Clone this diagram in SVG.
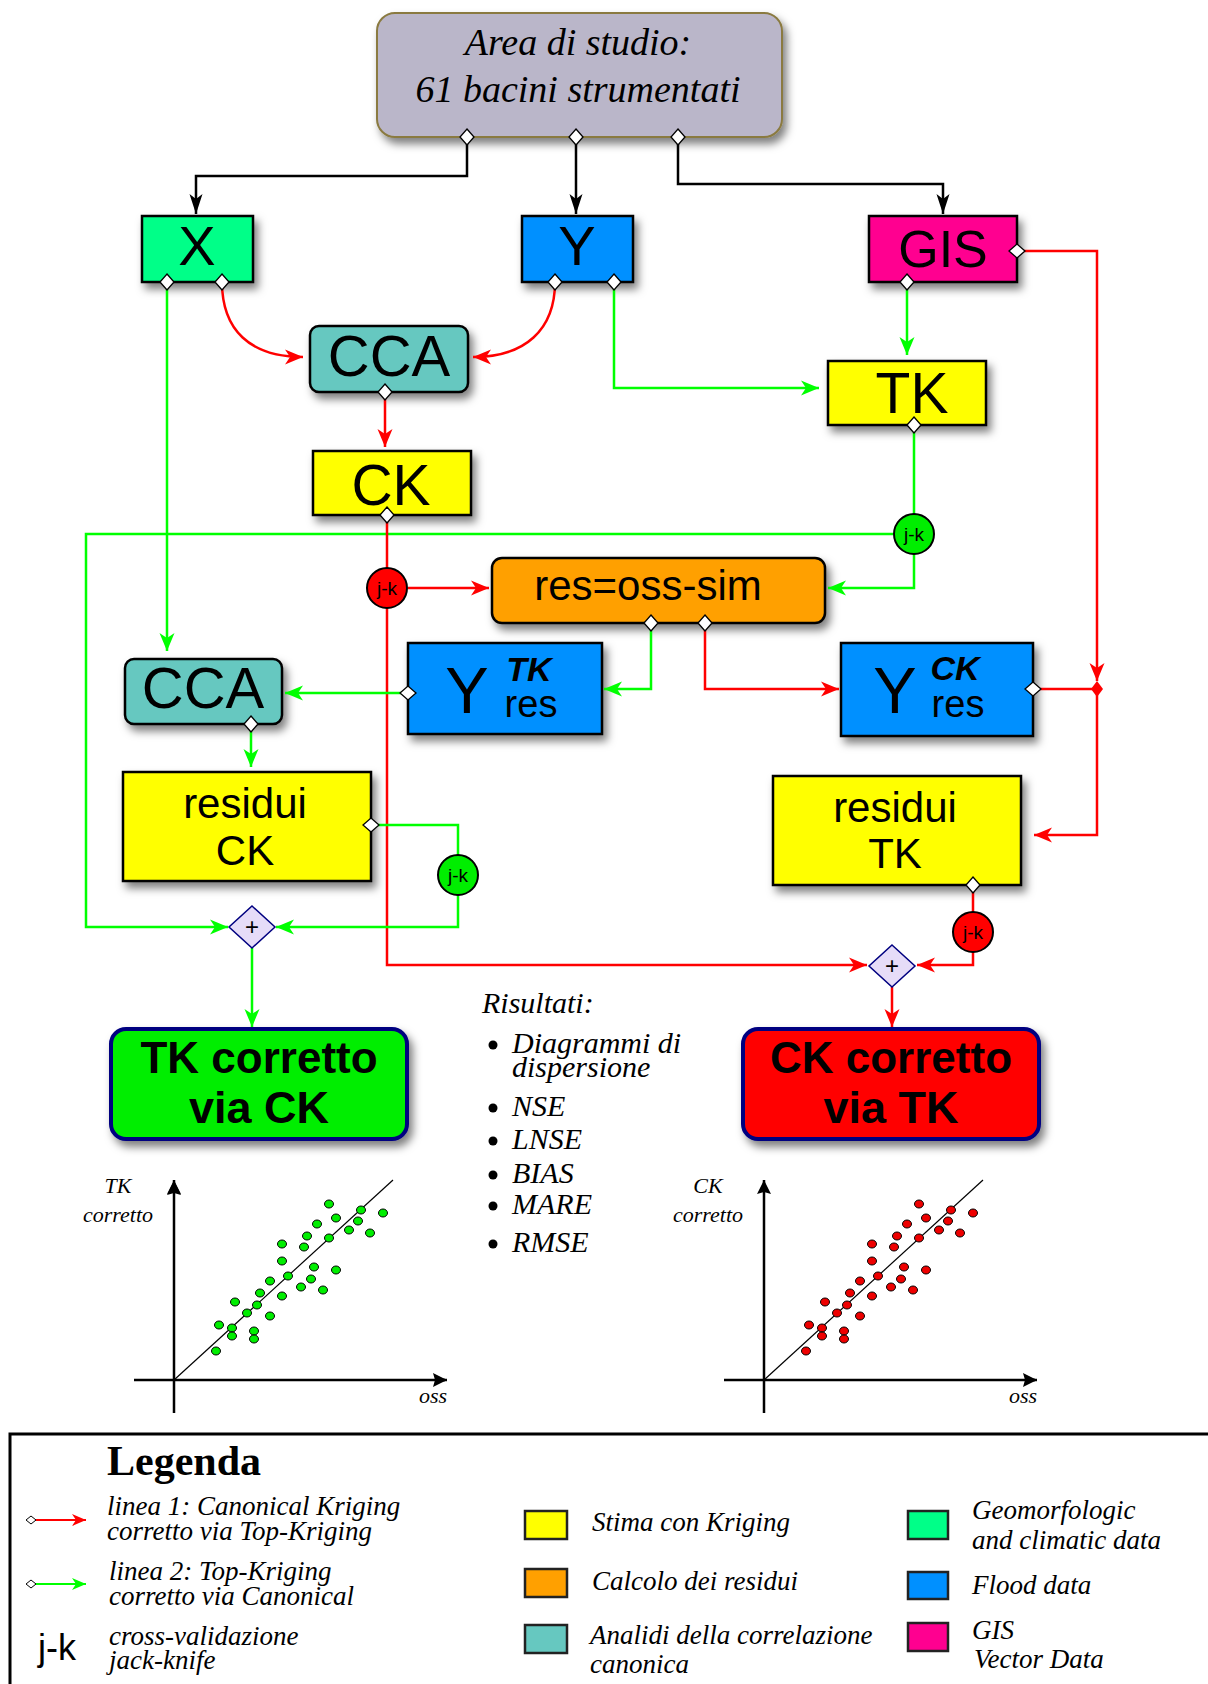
<svg xmlns="http://www.w3.org/2000/svg" width="1208" height="1684" viewBox="0 0 1208 1684">
<defs>
<filter id="sh" x="-20%" y="-20%" width="150%" height="170%"><feDropShadow dx="4" dy="6" stdDeviation="4" flood-color="#000" flood-opacity="0.5"/></filter>
<marker id="ar" viewBox="0 -8 20 16" refX="18" refY="0" markerWidth="20" markerHeight="16" orient="auto" markerUnits="userSpaceOnUse"><path d="M0,-7.5 L18,0 L0,7.5 L5,0 Z" fill="#ff0000"/></marker>
<marker id="ag" viewBox="0 -8 20 16" refX="18" refY="0" markerWidth="20" markerHeight="16" orient="auto" markerUnits="userSpaceOnUse"><path d="M0,-7.5 L18,0 L0,7.5 L5,0 Z" fill="#00ff00"/></marker>
<marker id="ak" viewBox="0 -8 22 16" refX="20" refY="0" markerWidth="22" markerHeight="16" orient="auto" markerUnits="userSpaceOnUse"><path d="M0,-6.5 L20,0 L0,6.5 L5,0 Z" fill="#000"/></marker>
<marker id="ax" viewBox="0 -8 16 16" refX="14" refY="0" markerWidth="16" markerHeight="16" orient="auto" markerUnits="userSpaceOnUse"><path d="M0,-7 L14,0 L0,7 L2,0 Z" fill="#000"/></marker>
<marker id="dm" viewBox="-1 -8 18 16" refX="8" refY="0" markerWidth="18" markerHeight="16" orient="auto" markerUnits="userSpaceOnUse"><path d="M0,0 L8,-7 L16,0 L8,7 Z" fill="#fff" stroke="#000" stroke-width="1.3"/></marker>
<marker id="dms" viewBox="-1 -6 12 12" refX="5" refY="0" markerWidth="12" markerHeight="12" orient="auto" markerUnits="userSpaceOnUse"><path d="M0,0 L5,-4 L10,0 L5,4 Z" fill="#fff" stroke="#000" stroke-width="1"/></marker>
<marker id="arl" viewBox="0 -8 16 16" refX="14" refY="0" markerWidth="16" markerHeight="16" orient="auto" markerUnits="userSpaceOnUse"><path d="M0,-6 L14,0 L0,6 L4,0 Z" fill="#ff0000"/></marker>
<marker id="agl" viewBox="0 -8 16 16" refX="14" refY="0" markerWidth="16" markerHeight="16" orient="auto" markerUnits="userSpaceOnUse"><path d="M0,-6 L14,0 L0,6 L4,0 Z" fill="#00ff00"/></marker>
</defs>
<style>
.box{stroke:#000;stroke-width:2.5;filter:url(#sh)}
.sans{font-family:"Liberation Sans",Arial,sans-serif;fill:#000;text-anchor:middle}
.ser{font-family:"Liberation Serif","Times New Roman",serif;font-style:italic;fill:#000}
.r{fill:none;stroke:#ff0000;stroke-width:2.5}
.g{fill:none;stroke:#00ff00;stroke-width:2.5}
.k{fill:none;stroke:#000;stroke-width:2.5}
.jkr{fill:#ff0000;stroke:#000;stroke-width:2}
.jkg{fill:#00ee00;stroke:#000;stroke-width:2}
.plus{fill:#e6dcf8;stroke:#000080;stroke-width:1.5}
.dotg{fill:#00ee00;stroke:#000;stroke-width:1}
.dotr{fill:#ee0000;stroke:#000;stroke-width:1}
.leg{stroke:#222;stroke-width:2.5}
</style>
<rect width="1208" height="1684" fill="#fff"/>

<g id="area">
<rect x="377" y="13" width="405" height="124" rx="18" fill="#bab6c9" stroke="#8a7a40" stroke-width="2" filter="url(#sh)"/>
<text class="ser" x="578" y="55" font-size="38" text-anchor="middle">Area di studio:</text>
<text class="ser" x="578" y="102" font-size="38" text-anchor="middle">61 bacini strumentati</text>
</g>
<g id="X"><rect class="box" x="142" y="216" width="111" height="66" fill="#00ff88"/><text class="sans" x="197" y="265" font-size="56">X</text></g>
<g id="Y"><rect class="box" x="522" y="216" width="111" height="66" fill="#0090ff"/><text class="sans" x="577" y="265" font-size="56">Y</text></g>
<g id="GIS"><rect class="box" x="869" y="216" width="148" height="66" fill="#ff0090"/><text class="sans" x="943" y="267" font-size="52">GIS</text></g>
<g id="CCA1"><rect class="box" x="310" y="326" width="158" height="66" rx="9" fill="#66c8c0"/><text class="sans" x="389" y="376" font-size="58">CCA</text></g>
<g id="CK"><rect class="box" x="313" y="451" width="158" height="64" fill="#ffff00"/><text class="sans" x="391" y="505" font-size="57">CK</text></g>
<g id="TK"><rect class="box" x="828" y="361" width="158" height="64" fill="#ffff00"/><text class="sans" x="912" y="413" font-size="57">TK</text></g>
<g id="res"><rect class="box" x="492" y="558" width="333" height="65" rx="10" fill="#ffa000"/><text class="sans" x="648" y="600" font-size="42">res=oss-sim</text></g>
<g id="CCA2"><rect class="box" x="125" y="659" width="157" height="65" rx="9" fill="#66c8c0"/><text class="sans" x="203" y="708" font-size="58">CCA</text></g>
<g id="YTKres"><rect class="box" x="408" y="643" width="194" height="91" fill="#0090ff" stroke-width="2"/>
<text class="sans" x="467" y="713" font-size="65">Y</text>
<text class="sans" x="529" y="681" font-size="34" font-weight="bold" font-style="italic">TK</text>
<text class="sans" x="531" y="717" font-size="38">res</text></g>
<g id="YCKres"><rect class="box" x="841" y="643" width="192" height="93" fill="#0090ff" stroke-width="2"/>
<text class="sans" x="895" y="713" font-size="65">Y</text>
<text class="sans" x="955" y="680" font-size="34" font-weight="bold" font-style="italic">CK</text>
<text class="sans" x="958" y="717" font-size="38">res</text></g>
<g id="residuiCK"><rect class="box" x="123" y="772" width="248" height="109" fill="#ffff00" stroke-width="4"/>
<text class="sans" x="245" y="818" font-size="42">residui</text><text class="sans" x="245" y="865" font-size="42">CK</text></g>
<g id="residuiTK"><rect class="box" x="773" y="776" width="248" height="109" fill="#ffff00" stroke-width="4"/>
<text class="sans" x="895" y="822" font-size="42">residui</text><text class="sans" x="895" y="868" font-size="42">TK</text></g>
<g id="TKcorretto"><rect x="111" y="1029" width="296" height="110" rx="15" fill="#00ee00" stroke="#000080" stroke-width="4" filter="url(#sh)"/>
<text class="sans" x="259" y="1073" font-size="44" font-weight="bold">TK corretto</text>
<text class="sans" x="259" y="1123" font-size="45" font-weight="bold">via CK</text></g>
<g id="CKcorretto"><rect x="743" y="1029" width="296" height="110" rx="15" fill="#ff0000" stroke="#000080" stroke-width="4" filter="url(#sh)"/>
<text class="sans" x="891" y="1073" font-size="44" font-weight="bold">CK corretto</text>
<text class="sans" x="891" y="1123" font-size="45" font-weight="bold">via TK</text></g>

<g id="connectors">
<path class="k" d="M467,137 V176 H196 V214" marker-start="url(#dm)" marker-end="url(#ak)"/>
<path class="k" d="M576,137 V214" marker-start="url(#dm)" marker-end="url(#ak)"/>
<path class="k" d="M678,137 V184 H943 V214" marker-start="url(#dm)" marker-end="url(#ak)"/>
<path class="g" d="M167,282 V651" marker-start="url(#dm)" marker-end="url(#ag)"/>
<path class="g" d="M614,282 V388 H819" marker-start="url(#dm)" marker-end="url(#ag)"/>
<path class="g" d="M907,282 V355" marker-start="url(#dm)" marker-end="url(#ag)"/>
<path class="g" d="M893,534 H86 V927 H228" stroke-width="3" marker-end="url(#ag)"/>
<path class="r" d="M387,515 V965 H867" marker-start="url(#dm)" marker-end="url(#ar)"/>
<path class="r" d="M222,282 C222,330 250,357 303,357" marker-start="url(#dm)" marker-end="url(#ar)"/>
<path class="r" d="M555,282 C555,330 525,357 473,357" marker-start="url(#dm)" marker-end="url(#ar)"/>
<path class="r" d="M385,392 V447" marker-start="url(#dm)" marker-end="url(#ar)"/>
<path class="r" d="M408,588 H489" marker-end="url(#ar)"/>
<path class="g" d="M914,425 V588 H828" marker-start="url(#dm)" marker-end="url(#ag)"/>
<path class="g" d="M651,623 V689 H604" marker-start="url(#dm)" marker-end="url(#ag)"/>
<path class="r" d="M705,623 V689 H839" marker-start="url(#dm)" marker-end="url(#ar)"/>
<path class="g" d="M408,693 H285" marker-start="url(#dm)" marker-end="url(#ag)"/>
<path class="g" d="M251,724 V767" marker-start="url(#dm)" marker-end="url(#ag)"/>
<path class="g" d="M371,825 H458 V927 H276" marker-start="url(#dm)" marker-end="url(#ag)"/>
<path class="r" d="M1017,251 H1097 V681" marker-start="url(#dm)" marker-end="url(#ar)"/>
<path class="r" d="M1033,689 H1097" marker-start="url(#dm)"/>
<path class="r" d="M1097,689 V835 H1034" marker-end="url(#ar)"/>
<path d="M1097,681 L1103,689 L1097,697 L1091,689 Z" fill="#ff0000"/>
<path class="r" d="M973,885 V965 H917" marker-start="url(#dm)" marker-end="url(#ar)"/>
<path class="g" d="M252,948 V1027" marker-end="url(#ag)"/>
<path class="r" d="M892,987 V1027" marker-end="url(#ar)"/>
</g>

<g id="jk1"><circle class="jkr" cx="387" cy="588" r="20"/><text class="sans" x="387" y="595" font-size="19">j-k</text></g>
<g id="jk2"><circle class="jkg" cx="914" cy="534" r="20"/><text class="sans" x="914" y="541" font-size="19">j-k</text></g>
<g id="jk3"><circle class="jkg" cx="458" cy="875" r="20"/><text class="sans" x="458" y="882" font-size="19">j-k</text></g>
<g id="jk4"><circle class="jkr" cx="973" cy="932" r="20"/><text class="sans" x="973" y="939" font-size="19">j-k</text></g>
<g id="plus1"><path class="plus" d="M252,906 L275,927 L252,948 L229,927 Z"/><text class="sans" x="252" y="935" font-size="24">+</text></g>
<g id="plus2"><path class="plus" d="M892,945 L915,966 L892,987 L869,966 Z"/><text class="sans" x="892" y="974" font-size="24">+</text></g>

<g id="risultati">
<text class="ser" x="482" y="1013" font-size="30">Risultati:</text>
<g fill="#000"><circle cx="493" cy="1045" r="4.5"/><circle cx="493" cy="1108" r="4.5"/><circle cx="493" cy="1141" r="4.5"/><circle cx="493" cy="1175" r="4.5"/><circle cx="493" cy="1206" r="4.5"/><circle cx="493" cy="1244" r="4.5"/></g>
<text class="ser" x="512" y="1053" font-size="30">Diagrammi di</text>
<text class="ser" x="512" y="1077" font-size="30">dispersione</text>
<text class="ser" x="512" y="1116" font-size="30">NSE</text>
<text class="ser" x="512" y="1149" font-size="30">LNSE</text>
<text class="ser" x="512" y="1183" font-size="30">BIAS</text>
<text class="ser" x="512" y="1214" font-size="30">MARE</text>
<text class="ser" x="512" y="1252" font-size="30">RMSE</text>
</g>

<g id="plotTK">
<path d="M174,1413 V1182 M134,1380 H445" stroke="#000" stroke-width="2.5" fill="none"/>
<path d="M174,1182 V1181" stroke="#000" marker-end="url(#ax)"/>
<path d="M174,1182 L174,1180" stroke="#000" stroke-width="2.5" marker-end="url(#ax)"/>
<path d="M440,1380 L447,1380" stroke="#000" stroke-width="2.5" marker-end="url(#ax)"/>
<line x1="174" y1="1380" x2="393" y2="1180" stroke="#000" stroke-width="1.2"/>
<text class="ser" x="118" y="1193" font-size="22" text-anchor="middle">TK</text>
<text class="ser" x="118" y="1222" font-size="22" text-anchor="middle">corretto</text>
<text class="ser" x="419" y="1403" font-size="22">oss</text>
<g id="dotsG" class="dotg">
<ellipse cx="329" cy="1204" rx="4.5" ry="4"/><ellipse cx="361" cy="1210" rx="4.5" ry="4"/><ellipse cx="383" cy="1213" rx="4.5" ry="4"/><ellipse cx="336" cy="1218" rx="4.5" ry="4"/><ellipse cx="317" cy="1224" rx="4.5" ry="4"/><ellipse cx="358" cy="1221" rx="4.5" ry="4"/><ellipse cx="349" cy="1230" rx="4.5" ry="4"/><ellipse cx="370" cy="1233" rx="4.5" ry="4"/><ellipse cx="307" cy="1236" rx="4.5" ry="4"/><ellipse cx="329" cy="1238" rx="4.5" ry="4"/><ellipse cx="282" cy="1244" rx="4.5" ry="4"/><ellipse cx="304" cy="1247" rx="4.5" ry="4"/><ellipse cx="282" cy="1261" rx="4.5" ry="4"/><ellipse cx="314" cy="1267" rx="4.5" ry="4"/><ellipse cx="336" cy="1270" rx="4.5" ry="4"/><ellipse cx="288" cy="1276" rx="4.5" ry="4"/><ellipse cx="311" cy="1279" rx="4.5" ry="4"/><ellipse cx="270" cy="1281" rx="4.5" ry="4"/><ellipse cx="301" cy="1287" rx="4.5" ry="4"/><ellipse cx="323" cy="1290" rx="4.5" ry="4"/><ellipse cx="260" cy="1293" rx="4.5" ry="4"/><ellipse cx="282" cy="1296" rx="4.5" ry="4"/><ellipse cx="235" cy="1302" rx="4.5" ry="4"/><ellipse cx="257" cy="1305" rx="4.5" ry="4"/><ellipse cx="247" cy="1313" rx="4.5" ry="4"/><ellipse cx="270" cy="1316" rx="4.5" ry="4"/><ellipse cx="219" cy="1325" rx="4.5" ry="4"/><ellipse cx="232" cy="1328" rx="4.5" ry="4"/><ellipse cx="254" cy="1331" rx="4.5" ry="4"/><ellipse cx="232" cy="1336" rx="4.5" ry="4"/><ellipse cx="254" cy="1339" rx="4.5" ry="4"/><ellipse cx="216" cy="1351" rx="4.5" ry="4"/>
</g>
</g>

<g id="plotCK">
<path d="M764,1413 V1182 M724,1380 H1035" stroke="#000" stroke-width="2.5" fill="none"/>
<path d="M764,1182 L764,1180" stroke="#000" stroke-width="2.5" marker-end="url(#ax)"/>
<path d="M1030,1380 L1037,1380" stroke="#000" stroke-width="2.5" marker-end="url(#ax)"/>
<line x1="764" y1="1380" x2="983" y2="1180" stroke="#000" stroke-width="1.2"/>
<text class="ser" x="708" y="1193" font-size="22" text-anchor="middle">CK</text>
<text class="ser" x="708" y="1222" font-size="22" text-anchor="middle">corretto</text>
<text class="ser" x="1009" y="1403" font-size="22">oss</text>
<g class="dotr" transform="translate(590,0)">
<ellipse cx="329" cy="1204" rx="4.5" ry="4"/><ellipse cx="361" cy="1210" rx="4.5" ry="4"/><ellipse cx="383" cy="1213" rx="4.5" ry="4"/><ellipse cx="336" cy="1218" rx="4.5" ry="4"/><ellipse cx="317" cy="1224" rx="4.5" ry="4"/><ellipse cx="358" cy="1221" rx="4.5" ry="4"/><ellipse cx="349" cy="1230" rx="4.5" ry="4"/><ellipse cx="370" cy="1233" rx="4.5" ry="4"/><ellipse cx="307" cy="1236" rx="4.5" ry="4"/><ellipse cx="329" cy="1238" rx="4.5" ry="4"/><ellipse cx="282" cy="1244" rx="4.5" ry="4"/><ellipse cx="304" cy="1247" rx="4.5" ry="4"/><ellipse cx="282" cy="1261" rx="4.5" ry="4"/><ellipse cx="314" cy="1267" rx="4.5" ry="4"/><ellipse cx="336" cy="1270" rx="4.5" ry="4"/><ellipse cx="288" cy="1276" rx="4.5" ry="4"/><ellipse cx="311" cy="1279" rx="4.5" ry="4"/><ellipse cx="270" cy="1281" rx="4.5" ry="4"/><ellipse cx="301" cy="1287" rx="4.5" ry="4"/><ellipse cx="323" cy="1290" rx="4.5" ry="4"/><ellipse cx="260" cy="1293" rx="4.5" ry="4"/><ellipse cx="282" cy="1296" rx="4.5" ry="4"/><ellipse cx="235" cy="1302" rx="4.5" ry="4"/><ellipse cx="257" cy="1305" rx="4.5" ry="4"/><ellipse cx="247" cy="1313" rx="4.5" ry="4"/><ellipse cx="270" cy="1316" rx="4.5" ry="4"/><ellipse cx="219" cy="1325" rx="4.5" ry="4"/><ellipse cx="232" cy="1328" rx="4.5" ry="4"/><ellipse cx="254" cy="1331" rx="4.5" ry="4"/><ellipse cx="232" cy="1336" rx="4.5" ry="4"/><ellipse cx="254" cy="1339" rx="4.5" ry="4"/><ellipse cx="216" cy="1351" rx="4.5" ry="4"/>
</g>
</g>

<g id="legend">
<path d="M10,1690 V1434 H1212" fill="none" stroke="#000" stroke-width="3"/>
<text x="107" y="1475" font-family="Liberation Serif,serif" font-weight="bold" font-size="42">Legenda</text>
<path d="M31,1520 H86" stroke="#ff0000" stroke-width="2" marker-start="url(#dms)" marker-end="url(#arl)"/>
<text class="ser" x="107" y="1515" font-size="27">linea 1: Canonical Kriging</text>
<text class="ser" x="107" y="1540" font-size="27">corretto via Top-Kriging</text>
<path d="M31,1584 H86" stroke="#00ff00" stroke-width="2" marker-start="url(#dms)" marker-end="url(#agl)"/>
<text class="ser" x="109" y="1580" font-size="27">linea 2: Top-Kriging</text>
<text class="ser" x="109" y="1605" font-size="27">corretto via Canonical</text>
<text x="57" y="1660" font-family="Liberation Sans,Arial,sans-serif" font-size="36" text-anchor="middle">j-k</text>
<text class="ser" x="109" y="1645" font-size="27">cross-validazione</text>
<text class="ser" x="109" y="1669" font-size="27">jack-knife</text>
<rect class="leg" x="525" y="1511" width="42" height="28" fill="#ffff00"/>
<rect class="leg" x="525" y="1569" width="42" height="28" fill="#ffa000"/>
<rect class="leg" x="525" y="1625" width="42" height="28" fill="#66c8c0"/>
<text class="ser" x="592" y="1531" font-size="27">Stima con Kriging</text>
<text class="ser" x="592" y="1590" font-size="27">Calcolo dei residui</text>
<text class="ser" x="590" y="1644" font-size="27">Analidi della correlazione</text>
<text class="ser" x="590" y="1673" font-size="27">canonica</text>
<rect class="leg" x="908" y="1511" width="40" height="28" fill="#00ff88"/>
<rect class="leg" x="908" y="1572" width="40" height="27" fill="#0090ff"/>
<rect class="leg" x="908" y="1623" width="40" height="28" fill="#ff0090"/>
<text class="ser" x="972" y="1519" font-size="27">Geomorfologic</text>
<text class="ser" x="972" y="1549" font-size="27">and climatic data</text>
<text class="ser" x="972" y="1594" font-size="27">Flood data</text>
<text class="ser" x="972" y="1639" font-size="27">GIS</text>
<text class="ser" x="974" y="1668" font-size="27">Vector Data</text>
</g>
</svg>
